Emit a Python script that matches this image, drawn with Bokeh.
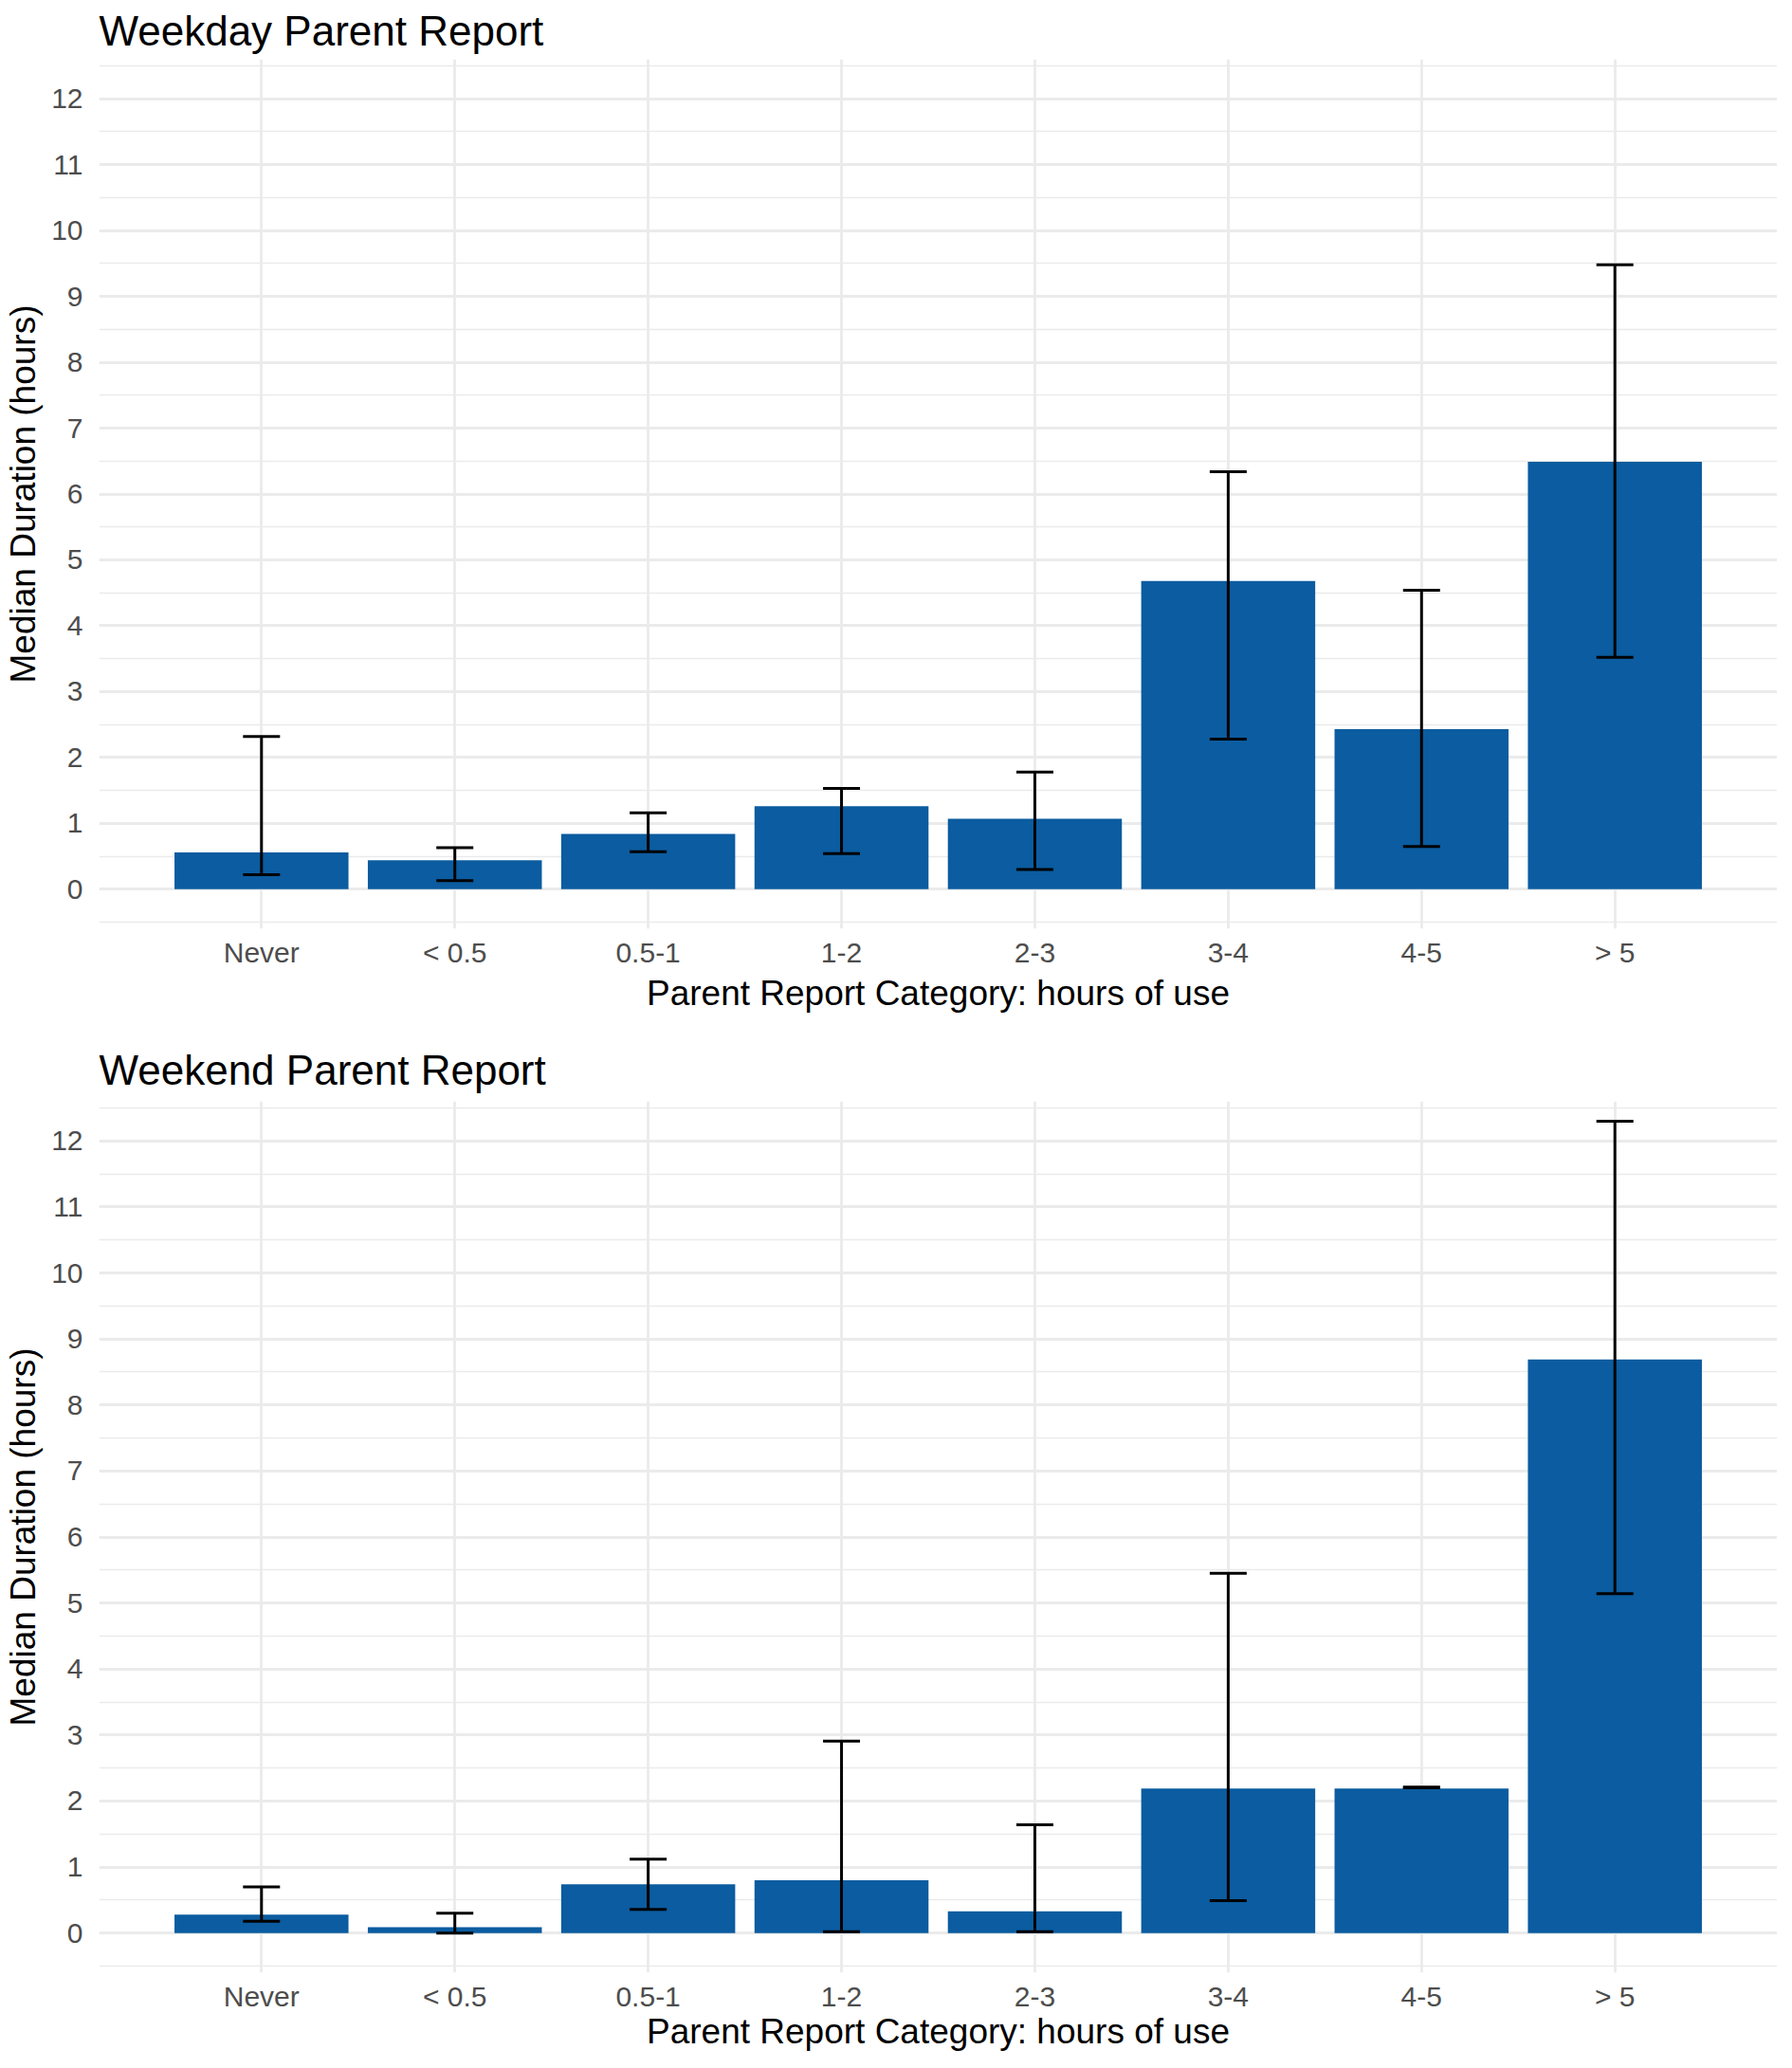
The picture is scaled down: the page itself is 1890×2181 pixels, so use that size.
from bokeh.plotting import figure
from bokeh.layouts import column
from bokeh.models import (ColumnDataSource, FactorRange, Range1d, FixedTicker,
                          Whisker, TeeHead)
from bokeh.embed import file_html
from bokeh.resources import INLINE

categories = ["Never", "< 0.5", "0.5-1", "1-2", "2-3", "3-4", "4-5", "> 5"]

weekday_median = [0.56, 0.44, 0.84, 1.26, 1.07, 4.68, 2.43, 6.49]
weekday_lower = [0.22, 0.13, 0.57, 0.54, 0.30, 2.28, 0.65, 3.52]
weekday_upper = [2.32, 0.63, 1.16, 1.53, 1.78, 6.34, 4.54, 9.48]

weekend_median = [0.28, 0.09, 0.74, 0.80, 0.33, 2.19, 2.19, 8.69]
weekend_lower = [0.18, 0.00, 0.36, 0.02, 0.02, 0.49, 2.20, 5.14]
weekend_upper = [0.70, 0.30, 1.12, 2.91, 1.64, 5.45, 2.21, 12.30]

y_ticks = list(range(0, 13))
y_minor = [v + 0.5 for v in range(-1, 13)]

BAR = "#0B5CA0"
GRID = "#EBEBEB"
FONT = "Liberation Sans"


def make_panel(title, med, lo, hi, height, top_border, title_standoff,
               bottom_border, x_label_standoff):
    src = ColumnDataSource(dict(cat=categories, med=med, lo=lo, hi=hi))
    p = figure(width=1874, height=height, output_backend="svg",
               toolbar_location=None, title=title,
               x_range=FactorRange(factors=categories, range_padding=0.34,
                                   range_padding_units="absolute"),
               y_range=Range1d(-0.6, 12.6),
               min_border_left=104, min_border_right=0,
               min_border_top=top_border, min_border_bottom=bottom_border)
    p.outline_line_color = None
    p.background_fill_color = "white"

    p.vbar(x="cat", top="med", bottom=0, width=0.9, source=src,
           fill_color=BAR, line_color=None)
    w = Whisker(base="cat", upper="hi", lower="lo", source=src,
                dimension="height", line_color="black", line_width=3,
                level="overlay",
                upper_head=TeeHead(size=39, line_color="black", line_width=3),
                lower_head=TeeHead(size=39, line_color="black", line_width=3))
    p.add_layout(w)

    p.title.text_font = FONT
    p.title.text_font_size = "44px"
    p.title.text_font_style = "normal"
    p.title.text_color = "black"
    p.title.align = "left"
    p.title.standoff = title_standoff

    p.yaxis.ticker = FixedTicker(ticks=y_ticks, minor_ticks=y_minor)
    for ax in (p.xaxis[0], p.yaxis[0]):
        ax.axis_line_color = None
        ax.major_tick_line_color = None
        ax.minor_tick_line_color = None
        ax.major_tick_out = 0
        ax.major_tick_in = 0
        ax.minor_tick_out = 0
        ax.minor_tick_in = 0
        ax.major_label_text_font = FONT
        ax.major_label_text_font_size = "30px"
        ax.major_label_text_color = "#4D4D4D"
        ax.major_label_text_line_height = 1.0
        ax.axis_label_text_font = FONT
        ax.axis_label_text_font_size = "37px"
        ax.axis_label_text_font_style = "normal"
        ax.axis_label_text_color = "black"
        ax.axis_label_text_line_height = 1.0
    p.xaxis.axis_label = "Parent Report Category: hours of use"
    p.yaxis.axis_label = "Median Duration (hours)"
    p.xaxis.major_label_standoff = 8
    p.xaxis.axis_label_standoff = x_label_standoff
    p.yaxis.major_label_standoff = 17
    p.yaxis.axis_label_standoff = 6

    p.xgrid.grid_line_color = GRID
    p.xgrid.grid_line_width = 2.8
    p.ygrid.grid_line_color = GRID
    p.ygrid.grid_line_width = 2.8
    p.ygrid.minor_grid_line_color = GRID
    p.ygrid.minor_grid_line_width = 1.4
    return p


p1 = make_panel("Weekday Parent Report", weekday_median, weekday_lower,
                weekday_upper, 1093, 55, 11, 114, 3)
p2 = make_panel("Weekend Parent Report", weekend_median, weekend_lower,
                weekend_upper, 1072, 61, 17, 80, -3)

layout = column(p1, p2, spacing=0)
open("out.html", "w").write(file_html(layout, INLINE))
